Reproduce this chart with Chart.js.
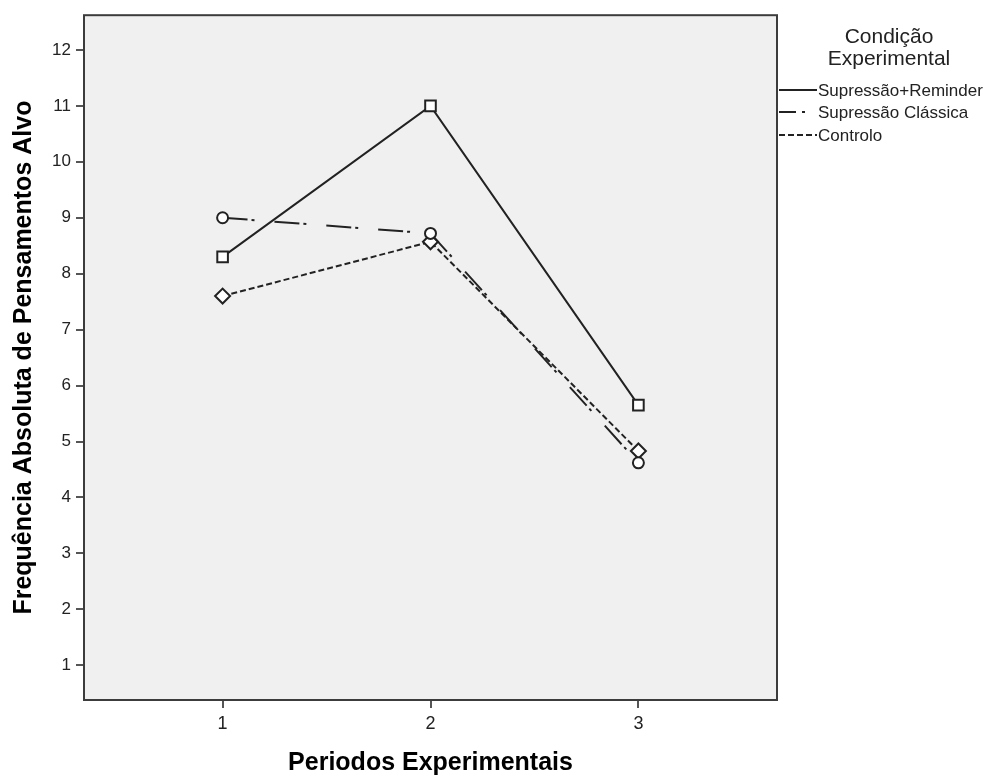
<!DOCTYPE html>
<html>
<head>
<meta charset="utf-8">
<script src="https://cdn.jsdelivr.net/npm/chart.js@4"></script>
<style>
  body { margin: 0; background: #fff; }
</style>
</head>
<body>
<canvas id="chart" width="994" height="776"></canvas>
<script>
// data
const periods = [1, 2, 3];
const yTicks = [1, 2, 3, 4, 5, 6, 7, 8, 9, 10, 11, 12];
const seriesNames = ['Supressão+Reminder', 'Supressão Clássica', 'Controlo'];
const reminderValues = [8.3, 11.0, 5.65];
const classicaValues = [9.0, 8.72, 4.62];
const controloValues = [7.6, 8.57, 4.83];

const toPoints = vals => vals.map((v, i) => ({ x: periods[i], y: v }));

const baseFont = "'Liberation Sans', Arial, sans-serif";

// plot background + frame, and the legend on the right
const framePlugin = {
    id: 'frame',
    beforeDraw(chart) {
        const { ctx, chartArea: a } = chart;
        ctx.save();
        ctx.fillStyle = '#f0f0f0';
        ctx.fillRect(a.left, a.top, a.right - a.left, a.bottom - a.top);
        ctx.restore();
    },
    afterDatasetsDraw(chart) {
        const { ctx, chartArea: a } = chart;
        ctx.save();
        ctx.strokeStyle = '#3c3c3c';
        ctx.lineWidth = 2;
        ctx.strokeRect(a.left, a.top, a.right - a.left, a.bottom - a.top);
        ctx.restore();
    },
    afterDraw(chart) {
        const { ctx, chartArea: a } = chart;
        ctx.save();
        ctx.fillStyle = '#222';
        ctx.textAlign = 'center';
        ctx.textBaseline = 'middle';
        ctx.font = '21px ' + baseFont;
        ctx.fillText('Condição', 889, 37);
        ctx.fillText('Experimental', 889, 59);

        const rowY = [90, 112, 135];
        const legendDash = [[], [17, 6, 3, 20], [6, 3]];
        ctx.font = '17px ' + baseFont;
        ctx.textAlign = 'left';
        chart.data.datasets.forEach((ds, i) => {
            ctx.beginPath();
            ctx.setLineDash(legendDash[i]);
            ctx.strokeStyle = '#222';
            ctx.lineWidth = 2;
            ctx.moveTo(a.right + 2, rowY[i]);
            ctx.lineTo(a.right + 40, rowY[i]);
            ctx.stroke();
            ctx.setLineDash([]);
            ctx.fillText(ds.label, a.right + 41, rowY[i] + 1);
        });
        ctx.restore();
    }
};

const marker = {
    pointBackgroundColor: '#fff',
    pointBorderColor: '#222',
    pointBorderWidth: 2,
    borderColor: '#222',
    borderWidth: 2,
    fill: false,
    tension: 0
};

new Chart(document.getElementById('chart'), {
    type: 'line',
    data: {
        datasets: [
            { ...marker, label: seriesNames[0], data: toPoints(reminderValues), pointStyle: 'rect', pointRadius: 7.5 },
            { ...marker, label: seriesNames[1], data: toPoints(classicaValues), pointStyle: 'circle', pointRadius: 5.5, borderDash: [25, 4, 3, 20] },
            { ...marker, label: seriesNames[2], data: toPoints(controloValues), pointStyle: 'rectRot', pointRadius: 7.5, borderDash: [6, 3] }
        ]
    },
    options: {
        responsive: false,
        animation: false,
        layout: { padding: { top: 12, right: 217, left: 0, bottom: 0 } },
        plugins: {
            legend: { display: false },
            tooltip: { enabled: false }
        },
        scales: {
            x: {
                type: 'linear',
                min: 1 / 3,
                max: 11 / 3,
                afterBuildTicks: scale => { scale.ticks = periods.map(v => ({ value: v })); },
                afterFit: scale => { scale.height = 76; },
                border: { display: false },
                grid: { drawOnChartArea: false, drawTicks: true, tickLength: 8, color: '#555', lineWidth: 2 },
                ticks: {
                    padding: 5,
                    color: '#222',
                    font: { family: baseFont, size: 18 }
                },
                title: {
                    display: true,
                    text: 'Periodos Experimentais',
                    color: '#000',
                    padding: { top: 0, bottom: 0 },
                    font: { family: baseFont, size: 25, weight: 'bold', lineHeight: 1.0 }
                }
            },
            y: {
                min: 0.38,
                max: 12.62,
                afterBuildTicks: scale => { scale.ticks = yTicks.map(v => ({ value: v })); },
                afterFit: scale => { scale.width = 84; },
                border: { display: false },
                grid: { drawOnChartArea: false, drawTicks: true, tickLength: 8, color: '#555', lineWidth: 2 },
                ticks: {
                    padding: 5,
                    color: '#222',
                    font: { family: baseFont, size: 17 }
                },
                title: {
                    display: true,
                    text: 'Frequência Absoluta de Pensamentos Alvo',
                    color: '#000',
                    padding: { top: 9, bottom: 0 },
                    font: { family: baseFont, size: 25, weight: 'bold' }
                }
            }
        }
    },
    plugins: [framePlugin]
});
</script>
</body>
</html>
